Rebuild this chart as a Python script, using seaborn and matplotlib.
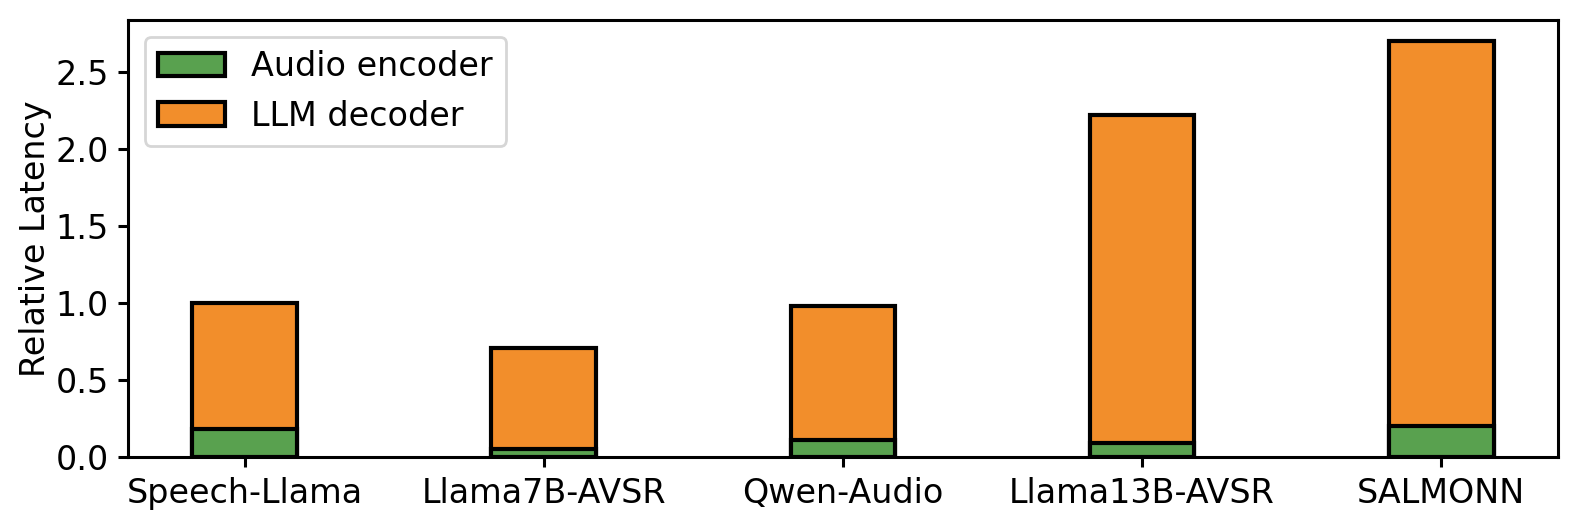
import pandas as pd
import matplotlib
matplotlib.use("Agg")
import matplotlib.pyplot as plt
import seaborn as sns

# values
models = ["Speech-Llama", "Llama7B-AVSR", "Qwen-Audio", "Llama13B-AVSR", "SALMONN"]
encoder = [0.18, 0.05, 0.11, 0.09, 0.20]
total = [1.00, 0.71, 0.98, 2.22, 2.70]

df = pd.DataFrame({"model": models, "encoder": encoder, "total": total})

green = "#59a14f"
orange = "#f28e2b"

sns.set_style("ticks")
plt.rcParams["font.family"] = ["DejaVu Sans"]
plt.rcParams["axes.edgecolor"] = "black"
plt.rcParams["axes.labelcolor"] = "black"
plt.rcParams["text.color"] = "black"
plt.rcParams["xtick.color"] = "black"
plt.rcParams["ytick.color"] = "black"

fig, ax = plt.subplots(figsize=(7.89, 2.63), dpi=200)
fig.subplots_adjust(left=0.0811, right=0.9873, top=0.962, bottom=0.131)

# LLM decoder stacked on encoder -> draw full height first, then encoder on top
sns.barplot(data=df, x="model", y="total", color=orange, width=0.35,
            edgecolor="black", linewidth=1.5, saturation=1, label="LLM decoder", ax=ax)
sns.barplot(data=df, x="model", y="encoder", color=green, width=0.35,
            edgecolor="black", linewidth=1.5, saturation=1, label="Audio encoder", ax=ax)

ax.set_xlim(-0.39, 4.39)
ax.set_ylim(0, 2.835)
ax.set_yticks([0, 0.5, 1.0, 1.5, 2.0, 2.5])
ax.set_xlabel("")
ax.set_ylabel("Relative Latency", fontsize=12, labelpad=1)
ax.tick_params(labelsize=12, length=3.5, width=1.1)
for sp in ax.spines.values():
    sp.set_linewidth(1.1)
    sp.set_visible(True)

handles, labels = ax.get_legend_handles_labels()
order = [labels.index("Audio encoder"), labels.index("LLM decoder")]
ax.legend([handles[i] for i in order], [labels[i] for i in order],
          loc="upper left", fontsize=12, frameon=True)

fig.savefig("out.png", dpi=200)
plt.close(fig)
